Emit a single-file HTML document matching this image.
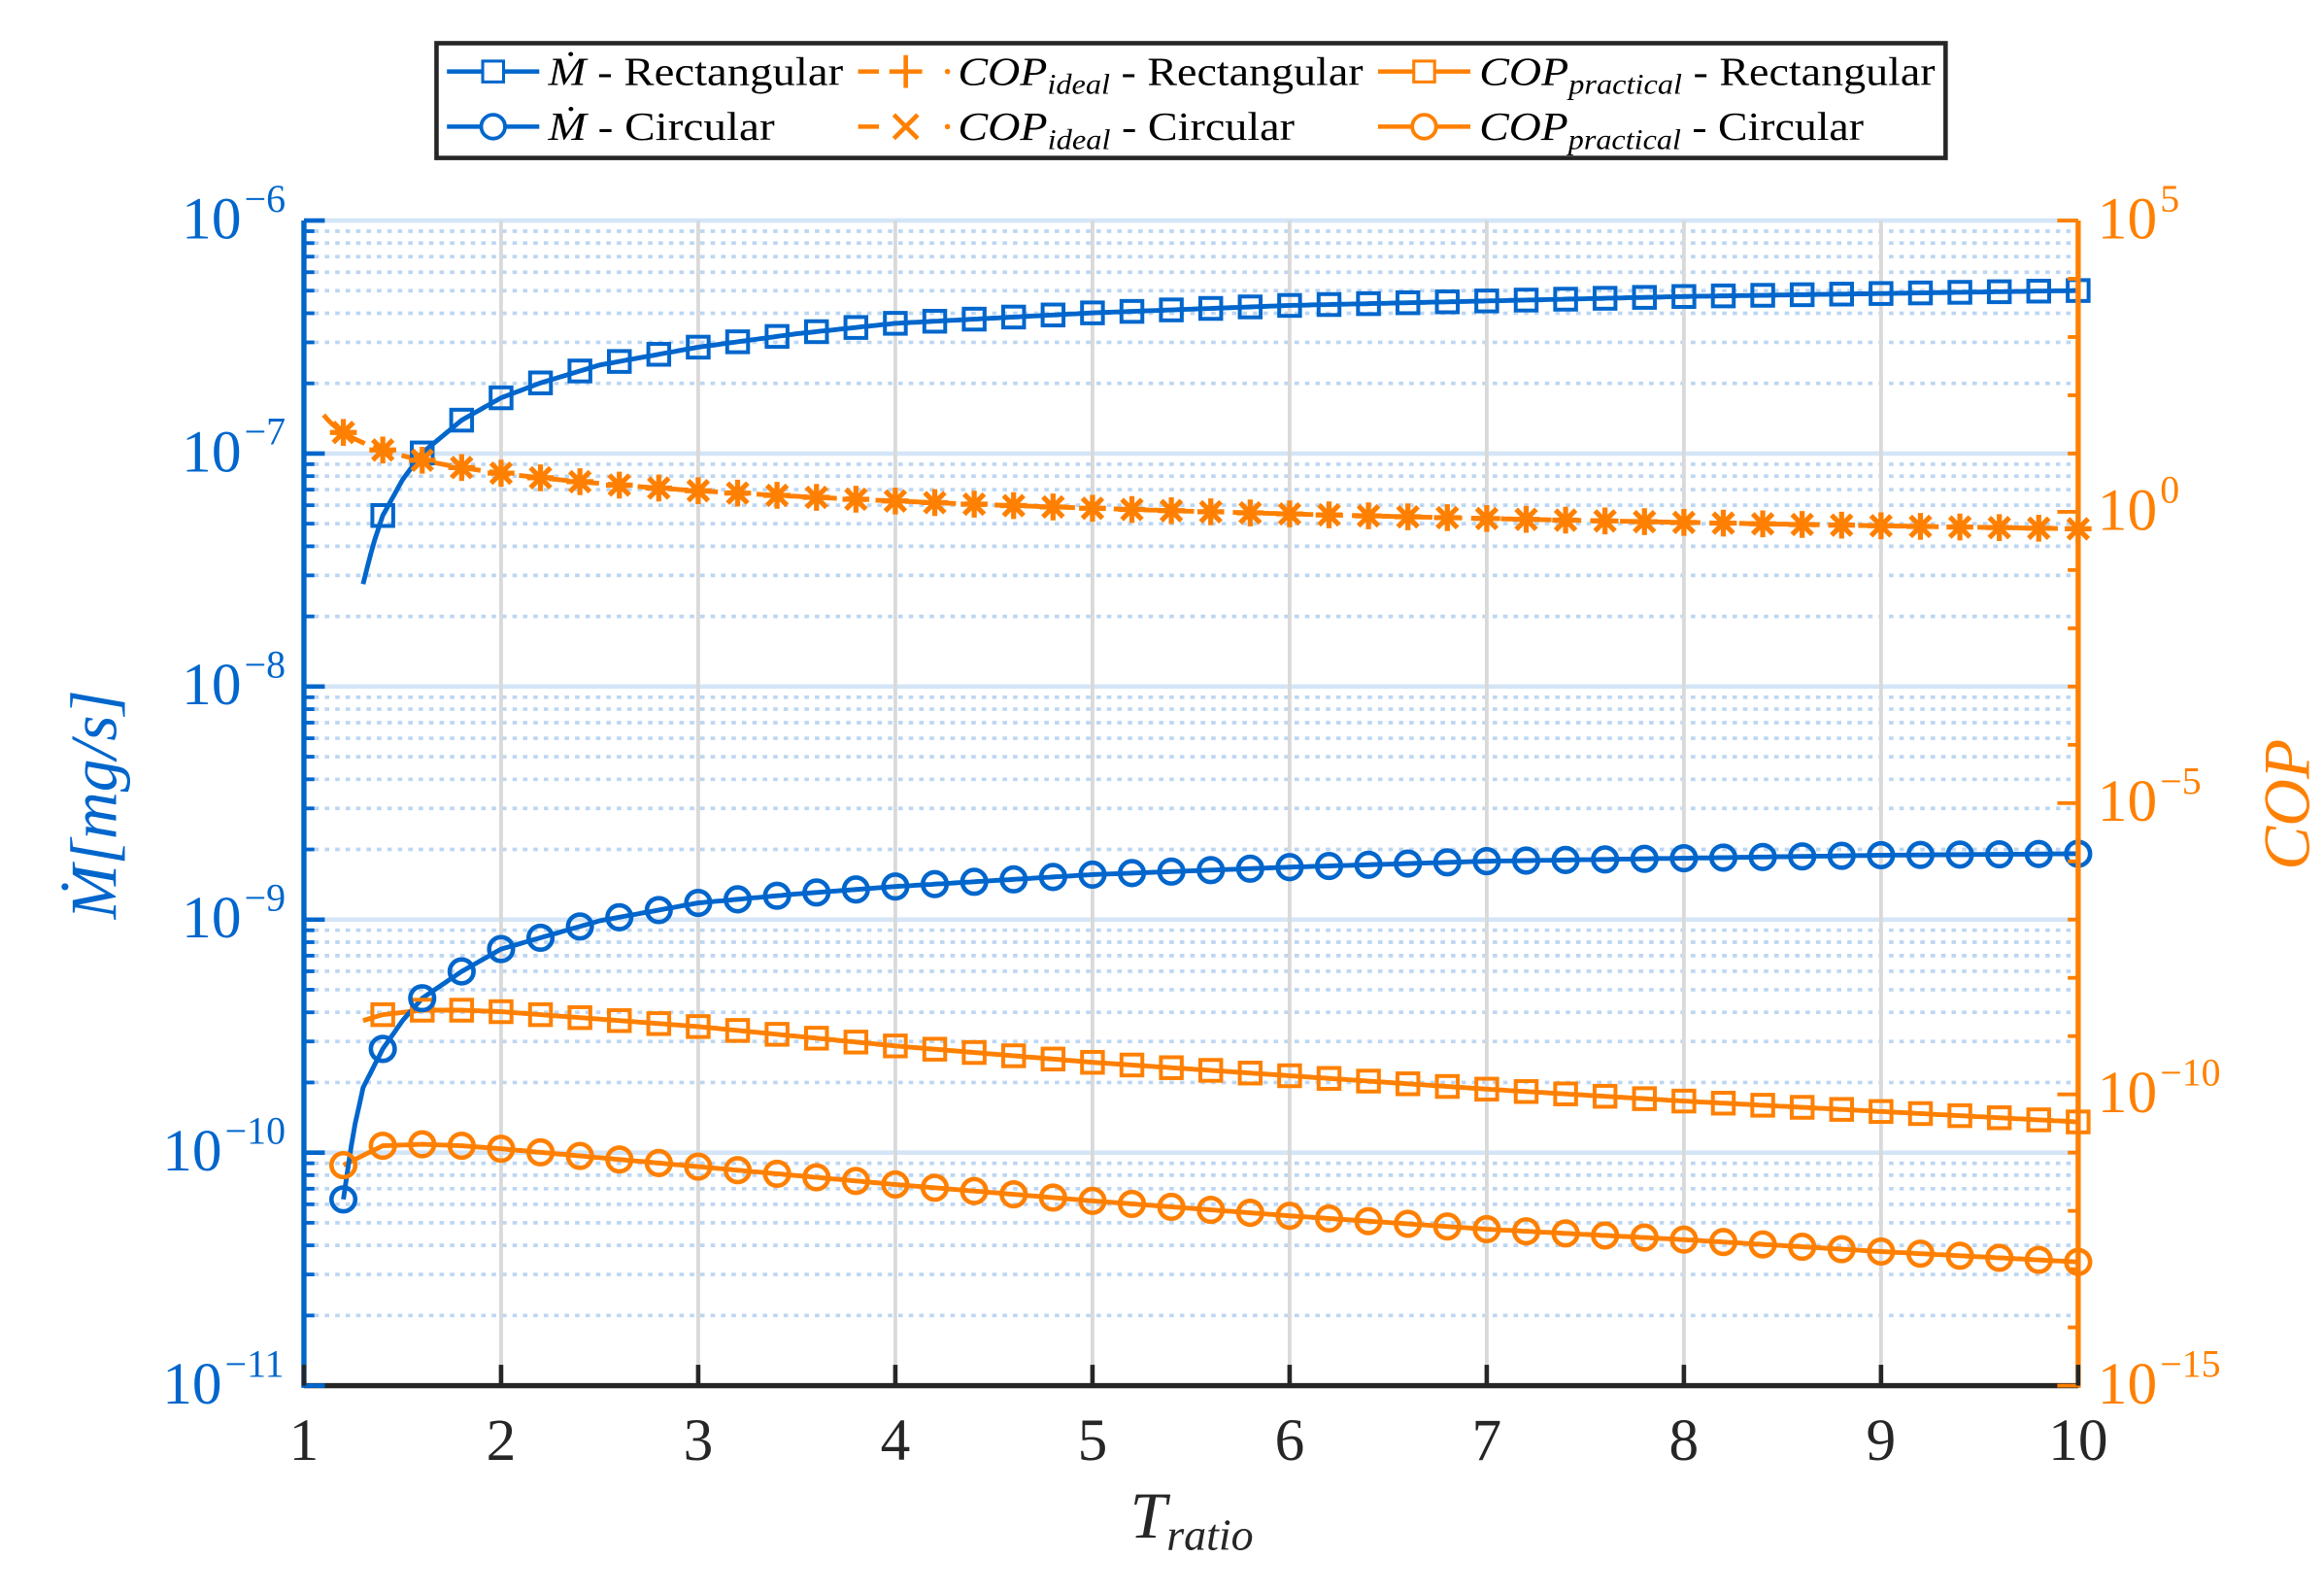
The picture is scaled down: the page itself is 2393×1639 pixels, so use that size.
<!DOCTYPE html>
<html><head><meta charset="utf-8"><style>
html,body{margin:0;padding:0;background:#fff;}
svg{display:block;}
text{font-family:"Liberation Serif",serif;}
</style></head><body>
<svg id="s" width="2393" height="1639" viewBox="0 0 1560 1068.5" xmlns="http://www.w3.org/2000/svg">
<rect width="1560" height="1068.5" fill="#fff"/>
<g id="grid"></g>
<g id="data"></g>
<g id="axes"></g>
<!-- legend -->
<rect x="293" y="29" width="1013" height="77" fill="#fff" stroke="#262626" stroke-width="3"/>
<g font-size="27">
<line x1="300" y1="48" x2="362" y2="48" stroke="#0066cc" stroke-width="3"/><rect x="324" y="41" width="14" height="14" fill="#fff" stroke="#0066cc" stroke-width="2"/>
<text x="368" y="57" textLength="198" lengthAdjust="spacingAndGlyphs"><tspan font-style="italic">Ṁ</tspan> - Rectangular</text>
<line x1="300" y1="85" x2="362" y2="85" stroke="#0066cc" stroke-width="3"/><circle cx="331" cy="85" r="8" fill="#fff" stroke="#0066cc" stroke-width="2.5"/>
<text x="368" y="94" textLength="152" lengthAdjust="spacingAndGlyphs"><tspan font-style="italic">Ṁ</tspan> - Circular</text>
<line x1="576" y1="48" x2="590" y2="48" stroke="#ff8000" stroke-width="3"/><path d="M597 48h22M608 37v22" stroke="#ff8000" stroke-width="3"/><circle cx="636" cy="48" r="1.8" fill="#ff8000"/>
<text x="643" y="57" textLength="272" lengthAdjust="spacingAndGlyphs"><tspan font-style="italic">COP</tspan><tspan font-style="italic" font-size="19" dy="6">ideal</tspan><tspan dy="-6"> - Rectangular</tspan></text>
<line x1="576" y1="85" x2="590" y2="85" stroke="#ff8000" stroke-width="3"/><path d="M600 77l16 16M616 77l-16 16" stroke="#ff8000" stroke-width="3"/><circle cx="636" cy="85" r="1.8" fill="#ff8000"/>
<text x="643" y="94" textLength="226" lengthAdjust="spacingAndGlyphs"><tspan font-style="italic">COP</tspan><tspan font-style="italic" font-size="19" dy="6">ideal</tspan><tspan dy="-6"> - Circular</tspan></text>
<line x1="925" y1="48" x2="987" y2="48" stroke="#ff8000" stroke-width="3"/><rect x="949" y="41" width="14" height="14" fill="#fff" stroke="#ff8000" stroke-width="2"/>
<text x="993" y="57" textLength="306" lengthAdjust="spacingAndGlyphs"><tspan font-style="italic">COP</tspan><tspan font-style="italic" font-size="19" dy="6">practical</tspan><tspan dy="-6"> - Rectangular</tspan></text>
<line x1="925" y1="85" x2="987" y2="85" stroke="#ff8000" stroke-width="3"/><circle cx="956" cy="85" r="8" fill="#fff" stroke="#ff8000" stroke-width="2.5"/>
<text x="993" y="94" textLength="258" lengthAdjust="spacingAndGlyphs"><tspan font-style="italic">COP</tspan><tspan font-style="italic" font-size="19" dy="6">practical</tspan><tspan dy="-6"> - Circular</tspan></text>
</g>
<text x="800" y="1032" font-size="44" font-style="italic" text-anchor="middle" fill="#262626">T<tspan font-size="30" dy="8">ratio</tspan></text>
<text transform="translate(78,540) rotate(-90)" font-size="44" font-style="italic" text-anchor="middle" fill="#0066cc">Ṁ[mg/s]</text>
<text transform="translate(1550,540) rotate(-90)" font-size="44" font-style="italic" text-anchor="middle" fill="#ff8000">COP</text>
</svg>
<script>
var NS="http://www.w3.org/2000/svg";
function el(p,t,a,txt){var e=document.createElementNS(NS,t);for(var k in a)e.setAttribute(k,a[k]);if(txt!==undefined)e.textContent=txt;document.getElementById(p).appendChild(e);return e;}
var X0=204,X1=1395,Y0=148,Y1=930;
function X(t){return X0+(t-1)*(X1-X0)/9;}
function YL(v){return Y0+(-6-Math.log10(v))*(Y1-Y0)/5;}
function YR(v){return Y0+(5-Math.log10(v))*(Y1-Y0)/20;}
var B="#0066cc",O="#ff8000";
for(var d=-11;d<-6;d++){for(var m=2;m<=9;m++){var y=YL(m*Math.pow(10,d));el("grid","line",{x1:X0,x2:X1,y1:y,y2:y,stroke:"#bcd6f2","stroke-width":2.4,"stroke-dasharray":"3 4"});}}
for(var d=-11;d<=-6;d++){var y=YL(Math.pow(10,d));el("grid","line",{x1:X0,x2:X1,y1:y,y2:y,stroke:"#d4e5f7","stroke-width":3});}
for(var i=2;i<=9;i++){el("grid","line",{x1:X(i),x2:X(i),y1:Y0,y2:Y1,stroke:"#d9d9d9","stroke-width":2.5});}
function pl(pts,c,dash){el("data","polyline",{points:pts.map(function(p){return p[0].toFixed(1)+","+p[1].toFixed(1)}).join(" "),fill:"none",stroke:c,"stroke-width":3.2,"stroke-dasharray":dash||""});}
function sq(x,y,c){el("data","rect",{x:x-7,y:y-7,width:14,height:14,fill:"none",stroke:c,"stroke-width":2.6});}
function ci(x,y,c){el("data","circle",{cx:x,cy:y,r:8,fill:"none",stroke:c,"stroke-width":3});}
function ast(x,y){var s=9;el("data","path",{d:"M"+(x-s)+" "+y+"h"+2*s+"M"+x+" "+(y-s)+"v"+2*s+"M"+(x-s*.75)+" "+(y-s*.75)+"l"+1.5*s+" "+1.5*s+"M"+(x+s*.75)+" "+(y-s*.75)+"l"+(-1.5*s)+" "+1.5*s,stroke:O,"stroke-width":3.4});}
function Ci(t){return 4.6/(t-1);}
function interp(tab,t){for(var i=0;i<tab.length-1;i++){if(t<=tab[i+1][0]+1e-9){var a=tab[i],b=tab[i+1];return a[1]+(b[1]-a[1])*(t-a[0])/(b[0]-a[0]);}}return tab[tab.length-1][1];}
var MR=[[1.3,392],[1.35,366],[1.4,346],[1.5,322],[1.6,304],[1.8,282],[2,267],[2.2,257],[2.5,245],[3,233],[3.5,224],[4,217],[5,210],[6,205],[7,202],[8,199],[9,197],[10,195]];
var MC=[[1.2,805],[1.25,760],[1.3,730],[1.4,704],[1.5,685],[1.6,670],[1.8,652],[2,637],[2.5,618],[3,606],[3.5,600],[4,595],[5,587],[6,582],[7,578],[8,576],[9,574],[10,573]];
var PR=[[1.3,685],[1.4,681],[1.6,678],[1.8,678],[2,679],[3,689],[4,702],[5,713],[6,722],[7,731],[8,739],[9,746],[10,753]];
var PC=[[1.2,782],[1.4,769],[1.6,768],[1.8,769],[2,771],[3,783],[4,795],[5,806],[6,816],[7,825],[8,832],[9,840],[10,847]];
var a=[],b=[],c=[],d=[],e=[];
for(var t=1.3;t<=10.001;t+=0.02){a.push([X(t),interp(MR,t)]);d.push([X(t),interp(PR,t)]);}
for(var t=1.2;t<=10.001;t+=0.02){b.push([X(t),interp(MC,t)]);e.push([X(t),interp(PC,t)]);}
for(var t=1.1;t<=10.001;t+=0.02){c.push([X(t),YR(Ci(t))]);}
pl(c,O,"14 6");pl(d,O);pl(e,O);pl(a,B);pl(b,B);
for(var k=1;k<=45;k++){var t=Math.round((1+k*0.2)*10)/10;
 if(t>=1.4){sq(X(t),interp(MR,t),B);sq(X(t),interp(PR,t),O);}
 ci(X(t),interp(MC,t),B);ci(X(t),interp(PC,t),O);ast(X(t),YR(Ci(t)));}
el("axes","line",{x1:X0,x2:X0,y1:Y0,y2:Y1+1.5,stroke:B,"stroke-width":3.5});
el("axes","line",{x1:X1,x2:X1,y1:Y0,y2:Y1+1.5,stroke:O,"stroke-width":3.5});
el("axes","line",{x1:X0,x2:X1,y1:Y1,y2:Y1,stroke:"#262626","stroke-width":3.5});
for(var d2=-11;d2<=-6;d2++){var y=YL(Math.pow(10,d2));el("axes","line",{x1:X0,x2:X0+14,y1:y,y2:y,stroke:B,"stroke-width":3});
 var ex="−"+(-d2);var ew=ex.length*13;
 el("axes","text",{x:188-ew,y:y+12,"font-size":40,fill:B,"text-anchor":"end"},"10");el("axes","text",{x:190-ew,y:y-6,"font-size":26,fill:B},ex);
 if(d2<-6)for(var m=2;m<=9;m++){var yy=YL(m*Math.pow(10,d2));el("axes","line",{x1:X0,x2:X0+7,y1:yy,y2:yy,stroke:B,"stroke-width":2.5});}}
for(var r=-15;r<=5;r++){var y=YR(Math.pow(10,r));var big=(r%5==0);el("axes","line",{x1:X1-(big?14:7),x2:X1,y1:y,y2:y,stroke:O,"stroke-width":2.5});
 if(big){el("axes","text",{x:1408,y:y+12,"font-size":40,fill:O},"10");el("axes","text",{x:1450,y:y-6,"font-size":26,fill:O},(r<0?"−":"")+Math.abs(r));}}
for(var i=1;i<=10;i++){el("axes","line",{x1:X(i),x2:X(i),y1:Y1,y2:Y1-14,stroke:"#262626","stroke-width":3});
 el("axes","text",{x:X(i),y:980,"font-size":40,fill:"#262626","text-anchor":"middle"},String(i));}
</script>
</body></html>
